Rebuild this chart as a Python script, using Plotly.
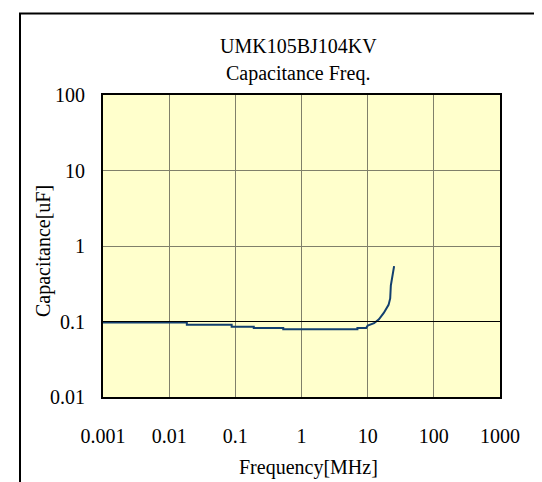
import plotly.graph_objects as go

# Data
freq_mhz = [0.001, 0.0185, 0.0185, 0.088, 0.088, 0.19, 0.19, 0.53, 0.53, 7.0, 7.0, 9.5,
            10.0, 12.5, 14.8, 17.5, 20.7, 21.9, 22.4, 23.2, 24.0, 25.1]
cap_uf = [0.097, 0.097, 0.0906, 0.0906, 0.0855, 0.0855, 0.0822, 0.0822, 0.079, 0.079, 0.0822, 0.0822,
          0.088, 0.095, 0.107, 0.130, 0.166, 0.202, 0.30, 0.365, 0.44, 0.54]

x_tickvals = [0.001, 0.01, 0.1, 1, 10, 100, 1000]
x_ticktext = ["0.001", "0.01", "0.1", "1", "10", "100", "1000"]
y_tickvals = [0.01, 0.1, 1, 10, 100]
y_ticktext = ["0.01", "0.1", "1", "10", "100"]

title_line1 = "UMK105BJ104KV"
title_line2 = "Capacitance Freq."
x_title = "Frequency[MHz]"
y_title = "Capacitance[uF]"

W, H = 542, 482
L, R, T, B = 95, 50, 87, 93
pw, ph = W - L - R, H - T - B

def px2paper_x(px):
    return (px - L) / pw

def py2paper_y(py):
    return 1 - (py - T) / ph

FONT = "Liberation Serif, Times New Roman, serif"
FS = 20

fig = go.Figure()
fig.add_trace(go.Scatter(
    x=freq_mhz, y=cap_uf, mode="lines",
    line=dict(color="#123f6e", width=2),
    hoverinfo="skip", showlegend=False,
))

axis_common = dict(
    type="log",
    showgrid=True, gridcolor="#80806a", gridwidth=1,
    showline=True, linecolor="black", linewidth=2, mirror=True,
    zeroline=False,
    tickfont=dict(family=FONT, size=FS, color="black"),
    ticks="outside", tickcolor="rgba(0,0,0,0)",
)

fig.update_xaxes(range=[-3, 3], tickvals=x_tickvals, ticktext=x_ticktext,
                 ticklen=20, **axis_common)
fig.update_yaxes(range=[-2, 2], tickvals=y_tickvals, ticktext=y_ticktext,
                 ticklen=12, **axis_common)

shapes = [
    # reference line at 0.1 uF (drawn black in the original)
    dict(type="line", xref="paper", x0=0, x1=1, yref="y", y0=0.1, y1=0.1,
         line=dict(color="black", width=1), layer="above"),
    # outer frame (only left/top visible)
    dict(type="rect", xref="paper", yref="paper",
         x0=px2paper_x(12), x1=px2paper_x(W + 20),
         y0=py2paper_y(H + 20), y1=py2paper_y(5.5),
         line=dict(color="black", width=2), layer="below"),
]

def ann(text, px, py, angle=0):
    return dict(text=text, xref="paper", yref="paper",
                x=px2paper_x(px), y=py2paper_y(py),
                showarrow=False, xanchor="center", yanchor="middle",
                textangle=angle,
                font=dict(family=FONT, size=FS, color="black"))

annotations = [
    ann(title_line1, 290, 38),
    ann(title_line2, 290, 65),
    ann(x_title, 300, 459),
    ann(y_title, 35, 243, angle=-90),
]

fig.update_layout(
    width=W, height=H,
    margin=dict(l=L, r=R, t=T, b=B, pad=0),
    paper_bgcolor="white", plot_bgcolor="#ffffcc",
    shapes=shapes, annotations=annotations,
    showlegend=False,
)

fig.write_html("out.html", config={"displayModeBar": False})
